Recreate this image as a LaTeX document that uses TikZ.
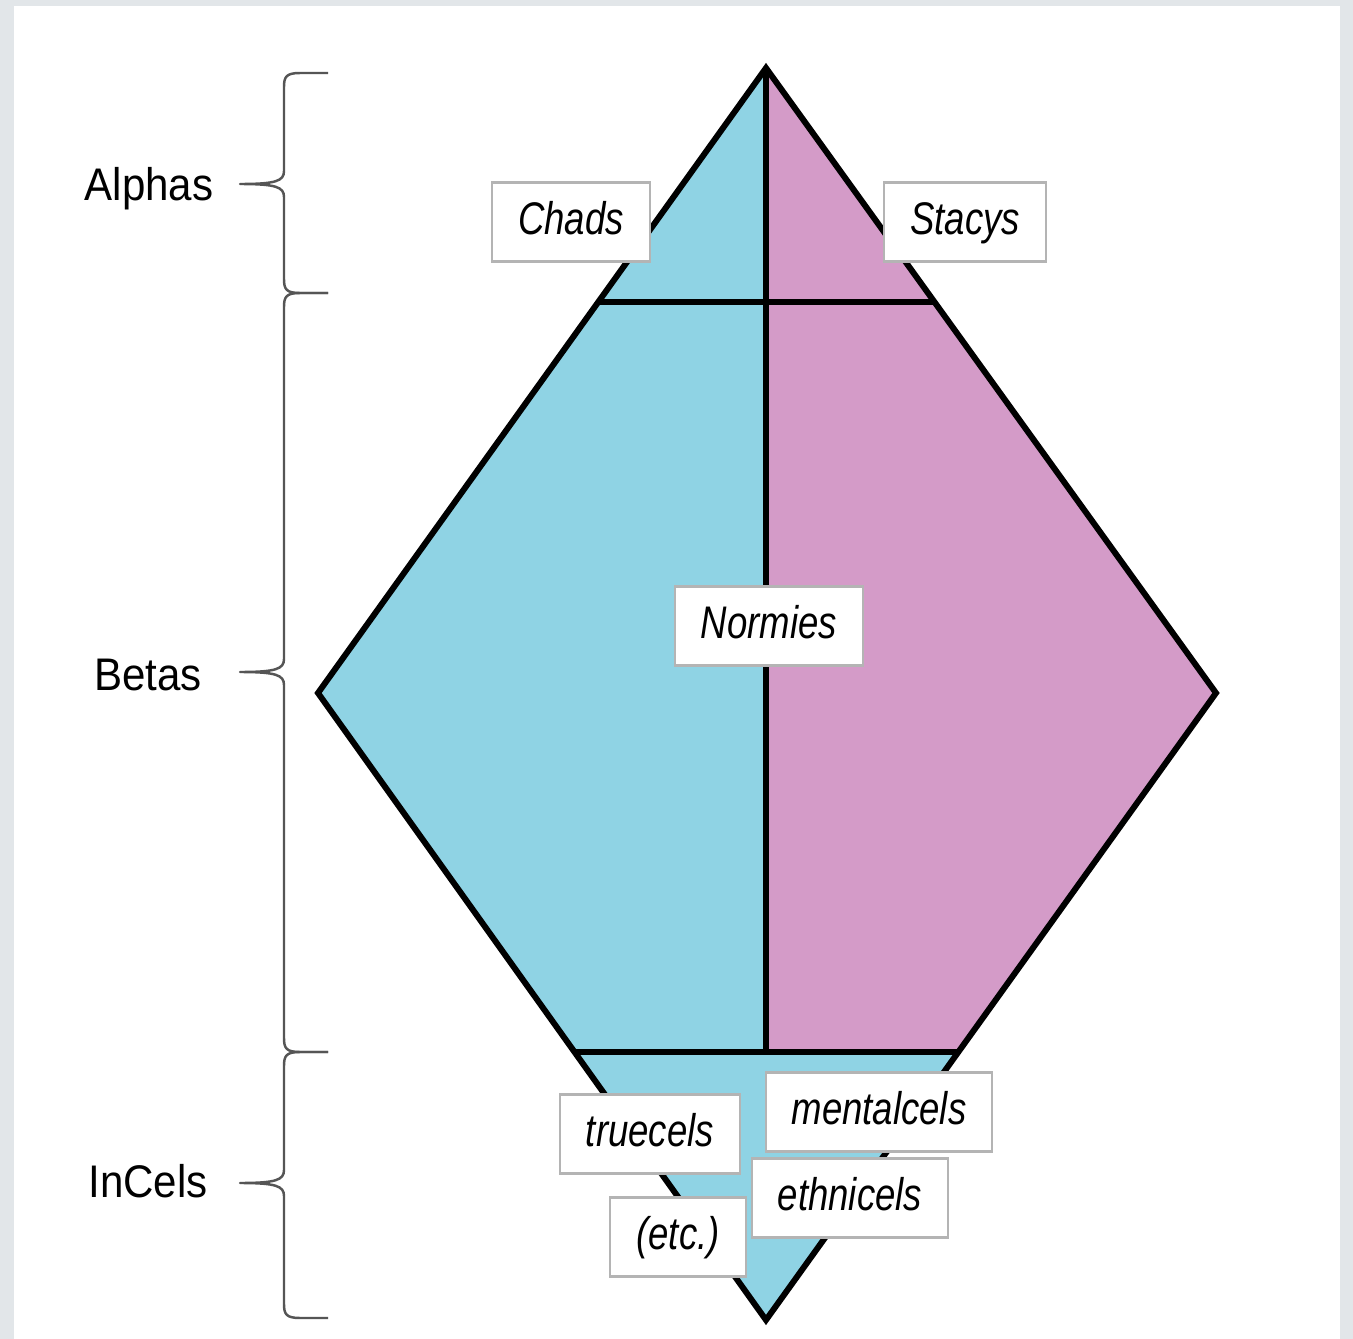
\documentclass[tikz,border=0pt]{standalone}
\usepackage{fontspec}
\newfontfamily\sidefont{Liberation Sans}[FakeStretch=0.92]
\newfontfamily\tagfont{Liberation Sans}[FakeStretch=0.8]
\definecolor{framegray}{HTML}{E2E6E9}
\definecolor{boxgray}{HTML}{B4B4B4}
\definecolor{bracegray}{HTML}{555555}
\definecolor{malecyan}{HTML}{8FD3E4}
\definecolor{femalepink}{HTML}{D49BC8}

\begin{document}
\begin{tikzpicture}[x=0.01cm,y=-0.01cm]

\tikzset{tag/.style={draw=boxgray,fill=white,line width=0.6pt,font=\tagfont\itshape\fontsize{13}{15}\selectfont,
    inner xsep=0.26cm,inner ysep=0.185cm,text height=0.33cm,text depth=0.09cm}}
\tikzset{rank/.style={anchor=base,font=\sidefont\fontsize{13}{15}\selectfont}}
\tikzset{brace/.style={draw=bracegray,line width=0.7pt,line join=round}}
\tikzset{edge/.style={line width=1.7pt,line join=miter,line cap=butt}}

  \useasboundingbox (0,0) rectangle (1353,1339);
  \fill[framegray] (0,0) rectangle (1353,1339);
  \fill[white] (14,6) rectangle (1340,1339);

  \coordinate (top) at (766,68);
  \coordinate (left) at (318,693);
  \coordinate (right) at (1216,693);
  \coordinate (bottom) at (766,1320);
  \coordinate (aL) at (598,302);
  \coordinate (aR) at (934,302);
  \coordinate (aM) at (766,302);
  \coordinate (cL) at (575,1052);
  \coordinate (cR) at (958,1052);
  \coordinate (cM) at (766,1052);

  % halves
  \fill[malecyan] (top) -- (left) -- (cL) -- (cM) -- cycle;
  \fill[femalepink] (top) -- (right) -- (cR) -- (cM) -- cycle;
  \fill[malecyan] (cL) -- (cR) -- (bottom) -- cycle;

  \draw[edge] (top) -- (right) -- (bottom) -- (left) -- cycle;
  \draw[edge] (aL) -- (aR);
  \draw[edge] (cL) -- (cR);
  \draw[edge] (top) -- (cM);

  \node[tag] (chads) at (571,222) {Chads};
  \node[tag] (stacys) at (965,222) {Stacys};
  \node[tag] (normies) at (769,626) {Normies};
  \node[tag] (truecels) at (650,1134) {truecels};
  \node[tag] (mentalcels) at (879,1112) {mentalcels};
  \node[tag] (ethnicels) at (850,1198) {ethnicels};
  \node[tag] (etc) at (678,1237) {(etc.)};

  \node[rank] (alphas) at (149,200) {Alphas};
  \node[rank] (betas) at (148,690) {Betas};
  \node[rank] (incels) at (148,1197) {InCels};

  % braces
  \draw[brace] (328,73) -- (300,73) .. controls (286,73) and (284,77) .. (284,87)
    -- (284,171) .. controls (284,181) and (276,184) .. (240,184)
    .. controls (276,184) and (284,187) .. (284,197)
    -- (284,279) .. controls (284,289) and (286,293) .. (300,293) -- (328,293);
  \draw[brace] (328,293) -- (300,293) .. controls (286,293) and (284,297) .. (284,307)
    -- (284,659) .. controls (284,669) and (276,672) .. (240,672)
    .. controls (276,672) and (284,675) .. (284,685)
    -- (284,1038) .. controls (284,1048) and (286,1052) .. (300,1052) -- (328,1052);
  \draw[brace] (328,1052) -- (300,1052) .. controls (286,1052) and (284,1056) .. (284,1066)
    -- (284,1170) .. controls (284,1180) and (276,1183) .. (240,1183)
    .. controls (276,1183) and (284,1186) .. (284,1196)
    -- (284,1304) .. controls (284,1314) and (286,1318) .. (300,1318) -- (328,1318);

\end{tikzpicture}
\end{document}
